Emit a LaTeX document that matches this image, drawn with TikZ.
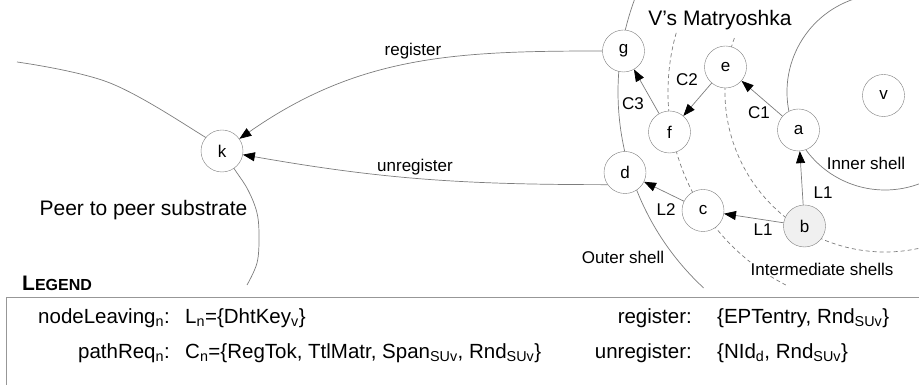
\documentclass[tikz,border=0pt]{standalone}
\usepackage{fontspec}
\setmainfont{Liberation Sans}
\usetikzlibrary{arrows.meta}
\definecolor{linegrey}{RGB}{125,125,125}
\definecolor{peerfill}{RGB}{240,240,240}

\begin{document}
\begin{tikzpicture}[x=1pt,y=1pt,
	peer/.style={circle,draw=linegrey,fill=white,minimum size=42pt,inner sep=0pt,font=\fontsize{17}{20}\selectfont},
	msg/.style={draw=linegrey,line width=0.7pt,-{Triangle[length=12pt,width=9pt,black]}},
	shell/.style={draw=linegrey,line width=0.7pt},
	midshell/.style={shell,dash pattern=on 4pt off 3pt},
	lbl/.style={font=\fontsize{17}{20}\selectfont,inner sep=1pt},
	big/.style={font=\fontsize{21}{24}\selectfont,inner sep=1pt},
	lgd/.style={font=\fontsize{20.5}{24}\selectfont,inner sep=0pt}]
	\useasboundingbox (0,0) rectangle (919,385);
	% shells round v
	\coordinate (O) at (885,293);
	\draw[shell] ([shift={(159.8:267)}]O) arc[start angle=159.8,end angle=227.2,radius=267];
	\draw[midshell] ([shift={(164.2:217)}]O) arc[start angle=164.2,end angle=242.8,radius=217];
	\draw[midshell] ([shift={(160.3:160)}]O) arc[start angle=160.3,end angle=282,radius=160];
	\draw[shell] ([shift={(108:98)}]O) arc[start angle=108,end angle=291,radius=98];
	% substrate
	\draw[shell] plot[smooth,tension=0.6] coordinates {(17,323) (110,302) (205,248) (222,234) (235,215) (248,195) (257,172) (259,148) (257,122) (247,100)};
	% peers
	\node[peer] (k) at (222,234) {k};
	\node[peer] (g) at (623.5,334) {g};
	\node[peer] (e) at (725.5,318) {e};
	\node[peer] (f) at (669.5,253) {f};
	\node[peer] (d) at (625,212.5) {d};
	\node[peer] (c) at (703,174.5) {c};
	\node[peer,fill=peerfill] (b) at (804.5,159) {b};
	\node[peer] (a) at (798.5,255) {a};
	\node[peer] (v) at (883.5,289.5) {v};
	% messages
	\draw[msg] (g.west) to[out=180,in=35] (k);
	\draw[msg] (d.215) to[out=180,in=-10] (k);
	\draw[msg] (b) -- (c);
	\draw[msg] (b) -- (a);
	\draw[msg] (c) -- (d);
	\draw[msg] (a) -- (e);
	\draw[msg] (e) -- (f);
	\draw[msg] (f) -- (g);
	\node[lbl] (register) at (413,334) {register};
	\node[lbl] (unregister) at (415,218) {unregister};
	\node[lbl] (lbc) at (763,155) {L1};
	\node[lbl] (lba) at (823,192) {L1};
	\node[lbl] (lcd) at (666,175) {L2};
	\node[lbl] (cae) at (759,272) {C1};
	\node[lbl] (cef) at (687,305) {C2};
	\node[lbl] (cfg) at (633,281) {C3};
	% texts
	\node[big] (title) at (720,365) {V's Matryoshka};
	\node[big] (substrate) at (143.5,175) {Peer to peer substrate};
	\node[lbl] (inner) at (866,222) {Inner shell};
	\node[lbl] (outer) at (623,128) {Outer shell};
	\node[lbl,fill=white] (middle) at (822,116) {Intermediate shells};
	% legend
	\node[anchor=west,inner sep=0pt,font=\bfseries] (legend) at (22,102) {{\fontsize{21}{24}\selectfont L}{\fontsize{16}{19}\selectfont EGEND}};
	\draw[draw=linegrey!80,line width=0.8pt] (930,88) -- (6,88) -- (6,-10);
	\node[lgd,anchor=east] (leave) at (170,67) {nodeLeaving\textsubscript{n}:};
	\node[lgd,anchor=west] (leaveval) at (185,67) {L\textsubscript{n}=\{DhtKey\textsubscript{v}\}};
	\node[lgd,anchor=east] (path) at (170,32) {pathReq\textsubscript{n}:};
	\node[lgd,anchor=west] (pathval) at (185,32) {C\textsubscript{n}=\{RegTok, TtlMatr, Span\textsubscript{SUv}, Rnd\textsubscript{SUv}\}};
	\node[lgd,anchor=east] (reg) at (692,67) {register:};
	\node[lgd,anchor=west] (regval) at (717,67) {\{EPTentry, Rnd\textsubscript{SUv}\}};
	\node[lgd,anchor=east] (unreg) at (692,32) {unregister:};
	\node[lgd,anchor=west] (unregval) at (717,32) {\{NId\textsubscript{d}, Rnd\textsubscript{SUv}\}};
\end{tikzpicture}
\end{document}
